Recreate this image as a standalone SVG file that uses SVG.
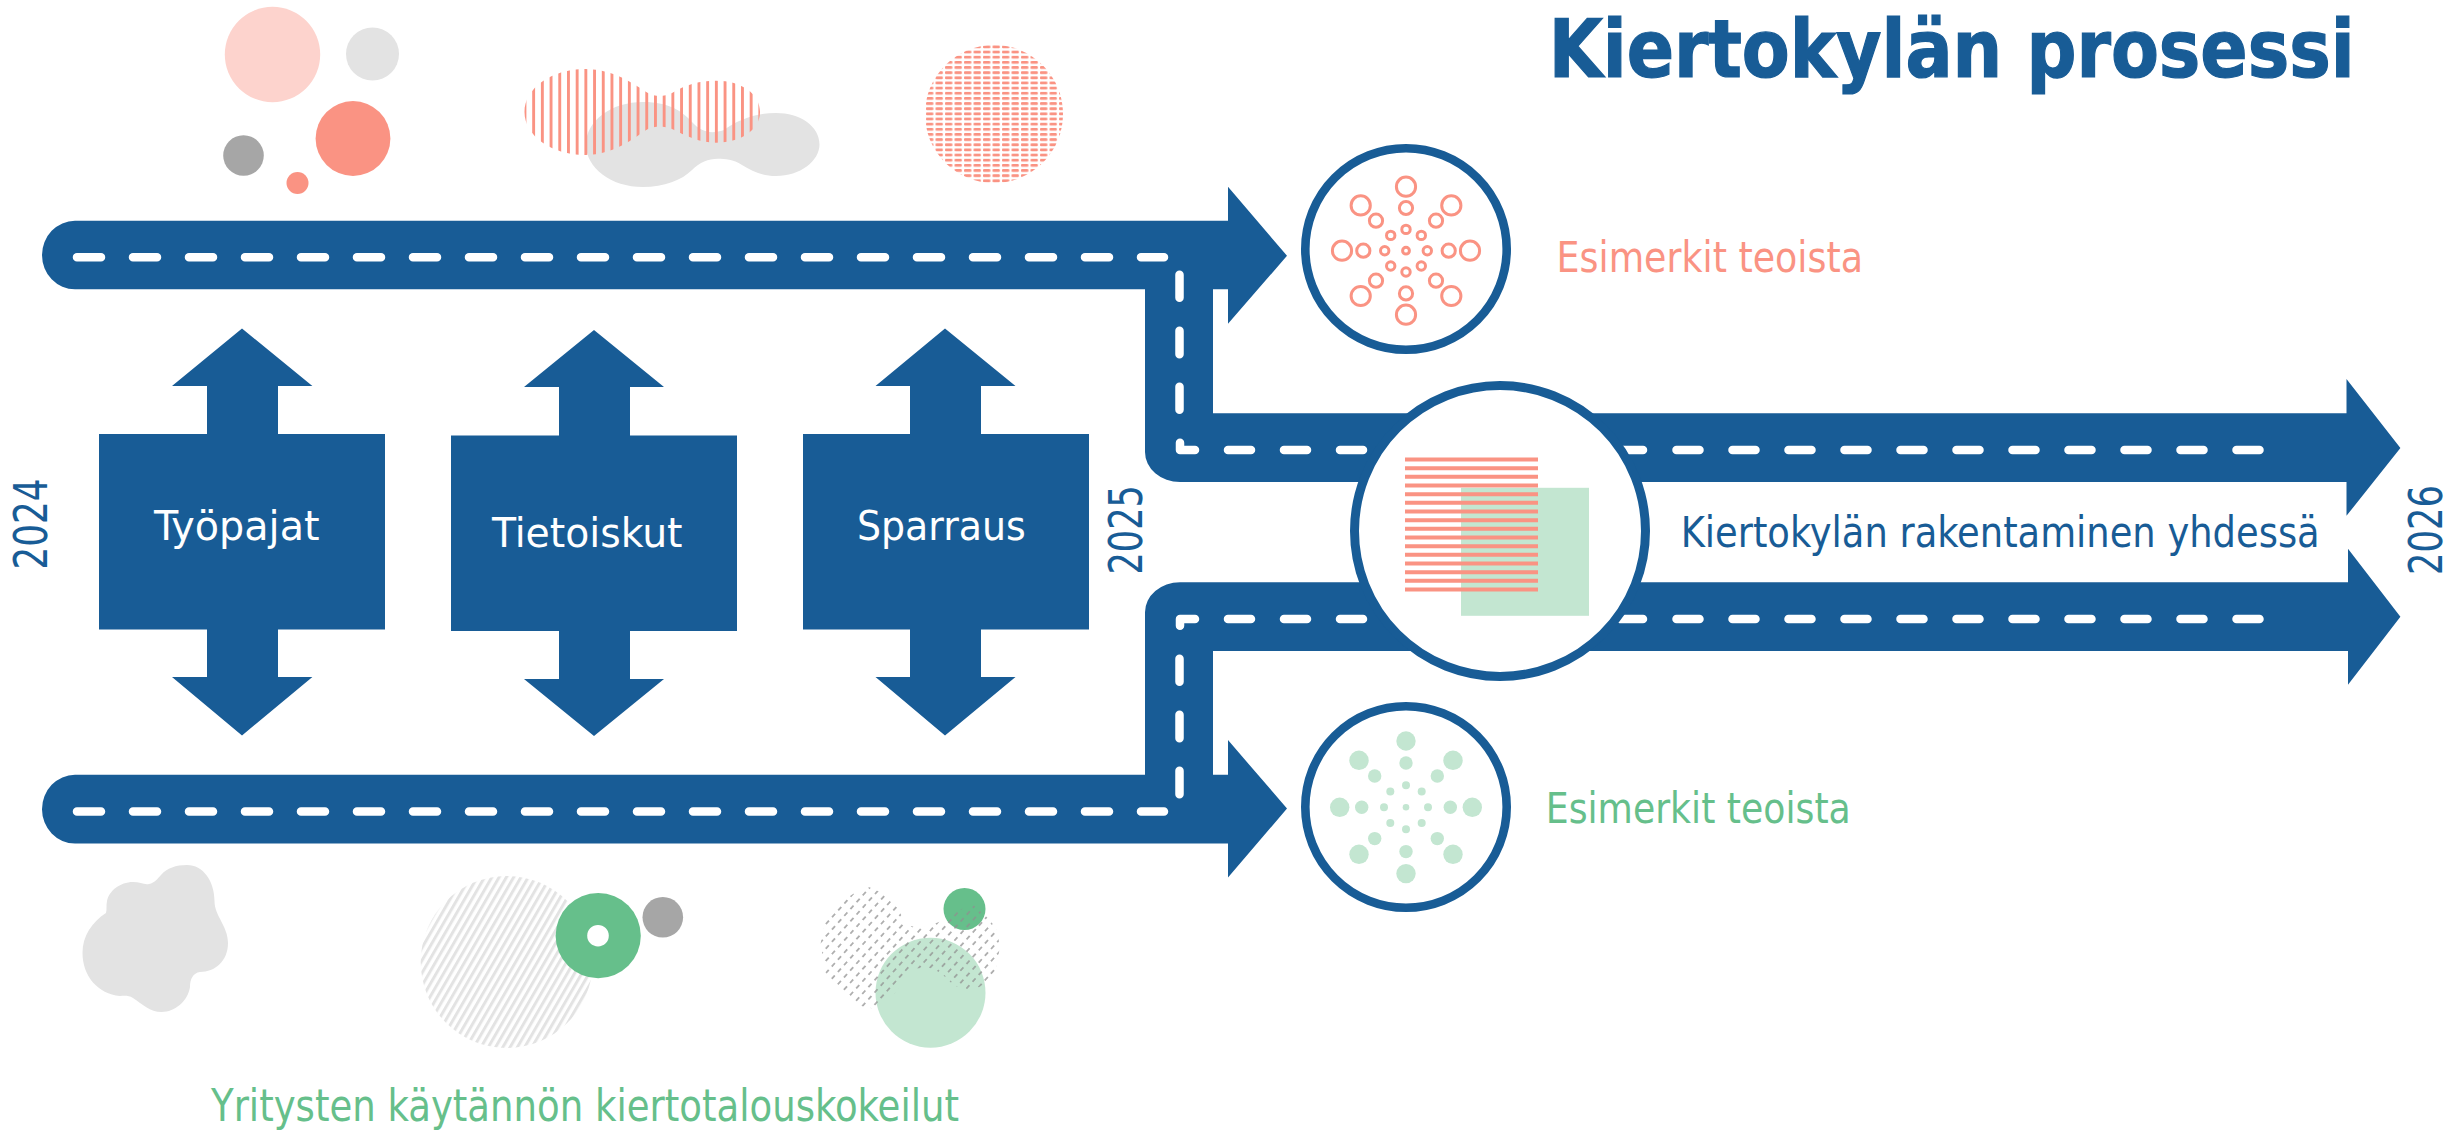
<svg xmlns="http://www.w3.org/2000/svg" width="2455" height="1130" viewBox="0 0 2455 1130">
<style>
.road{fill:#185C96}
.dash{fill:none;stroke:#fff;stroke-width:8.500;stroke-linecap:round;stroke-linejoin:round}
.ring{fill:#fff;stroke:#185C96;stroke-width:9}
.box{fill:#185C96}
.t{font-family:"DejaVu Sans","Liberation Sans",sans-serif;font-stretch:condensed}
.w{fill:#fff;font-size:41px}
.b{fill:#185C96}
.pinkring{fill:none;stroke:#FA9383;stroke-width:3}
.greendot{fill:#C3E6D1}
.salmon{fill:#FA9383}
.gl{fill:#E3E3E3}
.gd{fill:#A6A6A6}
.gm{fill:#66BF8B}
</style>
<defs>
<pattern id="pv" patternUnits="userSpaceOnUse" x="532.2" y="0" width="8.7" height="10"><rect width="2.9" height="10" fill="#FA9383"/></pattern>
<pattern id="pd" patternUnits="userSpaceOnUse" x="926" y="45.5" width="9.5" height="5.15"><rect width="7.4" height="2.8" rx="1" fill="#FA9383"/></pattern>
<pattern id="ph" patternUnits="userSpaceOnUse" width="6.3" height="10" patternTransform="rotate(30)"><rect width="3" height="10" fill="#E3E3E3"/></pattern>
<pattern id="pg" patternUnits="userSpaceOnUse" width="9.2" height="8.2" patternTransform="rotate(-48 820 880)"><rect x="0" y="3" width="4.6" height="1.3" fill="#8f8f8f"/></pattern>
</defs>
<g id="top-shapes">
<circle class="salmon" cx="272.5" cy="54.5" r="47.7" style="fill:#FDD3CD"/>
<circle class="gl" cx="372.5" cy="54" r="26.5"/>
<circle class="salmon" cx="353" cy="138.5" r="37.4"/>
<circle class="gd" cx="243.5" cy="155.5" r="20.3"/>
<circle class="salmon" cx="297.5" cy="183" r="11"/>
<path class="gl" d="M586 144.5C586 121 611 102 643 102C670 102 683 112 692 122C702 133 712 134 724 130C738 120 755 113 776 113C800 113 819.500 126 819.500 144.500C819.500 161 800 176 776 176C762 176 752 171 742 165C733 159 725 158.700 718 158.700C708 158.700 700 162 692 170C682 180 664 187 643 187C611 187 586 168 586 144.500Z"/>
<path fill="url(#pv)" d="M524.500 112C524.500 88 552 69 585 69C615 69 635 85 648 93C655 97 664 97 672 93C685 85 698 80.700 716 80.700C742 80.700 760 94 760 112C760 129 742 142.700 716 142.700C698 142.700 685 135 672 129C664 125.500 655 125.500 648 129C635 137 615 155 585 155C552 155 524.500 136 524.500 112Z"/>
<circle fill="url(#pd)" cx="994" cy="114" r="69"/>
</g>
<g id="connectors" transform="translate(0 0.800)">
<path class="road" d="M75 220H1228V186L1287 255L1228 323V288.500H1213V412.500H2346.500V378.300L2400.400 447.300L2346.500 515V481.300H1180A35 30 0 0 1 1145 451.300V288.500H75A33 34.250 0 0 1 75 220Z"/>
<path class="road" d="M75 774H1145V611.500A35 30 0 0 1 1180 581.500H2348V548L2400.400 616L2348 684V650.300H1213V774H1228V739.300L1287 807.700L1228 876.700V842.700H75A33 34.350 0 0 1 75 774Z"/>
<path class="dash" d="M77 256.500H101M133 256.500H157M189 256.500H213M245 256.500H269M301 256.500H325M357 256.500H381M413 256.500H437M469 256.500H493M525 256.500H549M581 256.500H605M637 256.500H661M693 256.500H717M749 256.500H773M805 256.500H829M861 256.500H885M917 256.500H941M973 256.500H997M1029 256.500H1053M1085 256.500H1109M1141 256.500H1164"/>
<path class="dash" d="M77 810.700H101M133 810.700H157M189 810.700H213M245 810.700H269M301 810.700H325M357 810.700H381M413 810.700H437M469 810.700H493M525 810.700H549M581 810.700H605M637 810.700H661M693 810.700H717M749 810.700H773M805 810.700H829M861 810.700H885M917 810.700H941M973 810.700H997M1029 810.700H1053M1085 810.700H1109M1141 810.700H1164"/>
<path class="dash" d="M1179.500 274V297M1179.500 330V353.500M1179.500 386V409M1180 442V449.300H1195M1228 449.300H1251M1284 449.300H1307M1340 449.300H1363M1396 449.300H1419M1452 449.300H1475M1508 449.300H1531M1564 449.300H1587M1620 449.300H1643M1676.500 449.300H1699.500M1732.500 449.300H1755.500M1788.500 449.300H1811.500M1844.500 449.300H1867.500M1900.500 449.300H1923.500M1956.500 449.300H1979.500M2012.500 449.300H2035.500M2068.500 449.300H2091.500M2124.500 449.300H2147.500M2180.500 449.300H2203.500M2236.500 449.300H2259.500"/>
<path class="dash" d="M1179.500 658V681M1179.500 714V737.500M1179.500 770V793.500M1180 625V618.200H1195M1228 618.200H1251M1284 618.200H1307M1340 618.200H1363M1396 618.200H1419M1452 618.200H1475M1508 618.200H1531M1564 618.200H1587M1620 618.200H1643M1676.500 618.200H1699.500M1732.500 618.200H1755.500M1788.500 618.200H1811.500M1844.500 618.200H1867.500M1900.500 618.200H1923.500M1956.500 618.200H1979.500M2012.500 618.200H2035.500M2068.500 618.200H2091.500M2124.500 618.200H2147.500M2180.500 618.200H2203.500M2236.500 618.200H2259.500"/>
</g>
<g id="node-tyopajat">
<path class="box" transform="translate(0 1)" d="M242 327.500L312.400 385H278V433H385V628.500H278V676H312.400L242 734.500L172 676H207V628.500H99V433H207V385H172Z"/>
<text class="t w" x="154" y="540" textLength="165.500" lengthAdjust="spacingAndGlyphs">Työpajat</text>
</g>
<g id="node-tietoiskut">
<path class="box" transform="translate(0 1)" d="M594 329L664 386H630V434.400H737V630H630V678H664L594 735L524 678H559V630H451V434.400H559V386H524Z"/>
<text class="t w" x="492" y="547" textLength="190.500" lengthAdjust="spacingAndGlyphs">Tietoiskut</text>
</g>
<g id="node-sparraus">
<path class="box" transform="translate(0 1)" d="M945 327.500L1015.500 385H981V433H1089V628.500H981V676H1015.500L945 734.500L875.500 676H910V628.500H803V433H910V385H875.500Z"/>
<text class="t w" x="857" y="540" textLength="168.700" lengthAdjust="spacingAndGlyphs">Sparraus</text>
</g>
<g id="node-esimerkit-top">
<circle class="ring" cx="1406" cy="249" r="100.700" style="stroke-width:8.600"/>
<g class="pinkring" transform="translate(1406 250.700)">
<circle r="3.400"/>
<circle cy="-21.300" r="4.200"/><circle cy="21.300" r="4.200"/><circle cx="-21.300" r="4.200"/><circle cx="21.300" r="4.200"/>
<circle cx="-15.300" cy="-15.300" r="4.200"/><circle cx="15.300" cy="-15.300" r="4.200"/><circle cx="-15.300" cy="15.300" r="4.200"/><circle cx="15.300" cy="15.300" r="4.200"/>
<circle cy="-42.700" r="6.600"/><circle cy="42.700" r="6.600"/><circle cx="-42.700" r="6.600"/><circle cx="42.700" r="6.600"/>
<circle cx="-30" cy="-30" r="6.600"/><circle cx="30" cy="-30" r="6.600"/><circle cx="-30" cy="30" r="6.600"/><circle cx="30" cy="30" r="6.600"/>
<circle cy="-64" r="9.600"/><circle cy="64" r="9.600"/><circle cx="-64" r="9.600"/><circle cx="64" r="9.600"/>
<circle cx="-45.300" cy="-45.300" r="9.600"/><circle cx="45.300" cy="-45.300" r="9.600"/><circle cx="-45.300" cy="45.300" r="9.600"/><circle cx="45.300" cy="45.300" r="9.600"/>
</g>
<text class="t" x="1556.600" y="272" font-size="43" fill="#FA9383" textLength="306.400" lengthAdjust="spacingAndGlyphs">Esimerkit teoista</text>
</g>
<g id="node-center">
<circle class="ring" cx="1500" cy="531" r="145.500"/>
<rect x="1461" y="487.800" width="128" height="128" fill="#C3E6D1"/>
<path fill="none" stroke="#FA9383" stroke-width="4" d="M1405 459.500H1538M1405 468.200H1538M1405 476.800H1538M1405 485.500H1538M1405 494.200H1538M1405 502.800H1538M1405 511.500H1538M1405 520.200H1538M1405 528.800H1538M1405 537.500H1538M1405 546.200H1538M1405 554.800H1538M1405 563.500H1538M1405 572.200H1538M1405 580.800H1538M1405 589.500H1538"/>
<text class="t b" x="1680.700" y="546.700" font-size="43" textLength="639" lengthAdjust="spacingAndGlyphs">Kiertokylän rakentaminen yhdessä</text>
</g>
<g id="node-esimerkit-bottom">
<circle class="ring" cx="1406" cy="807" r="100.700" style="stroke-width:8.600"/>
<g class="greendot" transform="translate(1406 807.300)">
<circle r="3.300"/>
<circle cy="-22" r="4"/><circle cy="22" r="4"/><circle cx="-22" r="4"/><circle cx="22" r="4"/>
<circle cx="-15.700" cy="-15.700" r="4"/><circle cx="15.700" cy="-15.700" r="4"/><circle cx="-15.700" cy="15.700" r="4"/><circle cx="15.700" cy="15.700" r="4"/>
<circle cy="-44.300" r="6.700"/><circle cy="44.300" r="6.700"/><circle cx="-44.300" r="6.700"/><circle cx="44.300" r="6.700"/>
<circle cx="-31.300" cy="-31.300" r="6.700"/><circle cx="31.300" cy="-31.300" r="6.700"/><circle cx="-31.300" cy="31.300" r="6.700"/><circle cx="31.300" cy="31.300" r="6.700"/>
<circle cy="-66.300" r="9.700"/><circle cy="66.300" r="9.700"/><circle cx="-66.300" r="9.700"/><circle cx="66.300" r="9.700"/>
<circle cx="-47" cy="-47" r="9.700"/><circle cx="47" cy="-47" r="9.700"/><circle cx="-47" cy="47" r="9.700"/><circle cx="47" cy="47" r="9.700"/>
</g>
<text class="t" x="1545.800" y="823" font-size="43" fill="#66BF8B" textLength="305" lengthAdjust="spacingAndGlyphs">Esimerkit teoista</text>
</g>
<g id="bottom-shapes">
<path class="gl" transform="translate(0 1)" d="M187 864C203 864 214.500 880 214.500 900C214.500 915 228 925 228 942C228 960 215 971 200 971C193 972 190 978 190 986C188 1000 175 1011 161.600 1011C150 1011 142 1003 133 997C128 994 124 995 120 995C98 993 82.500 975 82.500 952C82.500 935 92 921 106 912C107 908 106 905 107 900C109 890 120 881 133 881C140 881 144 884 149 883C155 882 158 877 161 874C167 867 176 864 187 864Z"/>
<circle fill="url(#ph)" cx="506.700" cy="962" r="86"/>
<circle class="gm" cx="598.200" cy="935.700" r="42.600"/>
<circle fill="#fff" cx="598" cy="935.700" r="10.800"/>
<circle class="gd" cx="662.800" cy="917.300" r="20.300"/>
<circle class="greendot" cx="930.500" cy="992.700" r="55"/>
<circle class="gm" cx="964.500" cy="909" r="21"/>
<path fill="url(#pg)" d="M868.300 886.700L856.700 891.700L835 905L825 921.700L820.700 943.300L825 971.700L840 988.300L855 1005L871.700 1008.300L896.700 991.700L905 976L916.700 968.300L933.300 968.300L945 976.700L953.300 985L970 991.700L986.700 983.300L995 973.300L1000 946.700L996.700 930L990 920L973.300 905L953.300 911.700L940 921.700L920 928.300L906.700 925L896.700 906.700L886.700 895Z"/>
<text class="t" x="211" y="1121" font-size="44" fill="#66BF8B" textLength="748" lengthAdjust="spacingAndGlyphs">Yritysten käytännön kiertotalouskokeilut</text>
</g>
<g id="labels">
<text class="t b" x="1548.700" y="76.700" font-size="80" font-weight="700" stroke="#185C96" stroke-width="1.200" textLength="806" lengthAdjust="spacingAndGlyphs">Kiertokylän prosessi</text>
<text class="t b" transform="translate(47.400 569.500) rotate(-90)" font-size="46" textLength="91" lengthAdjust="spacingAndGlyphs">2024</text>
<text class="t b" transform="translate(1142 574.600) rotate(-90)" font-size="46" textLength="89.600" lengthAdjust="spacingAndGlyphs">2025</text>
<text class="t b" transform="translate(2442.400 575) rotate(-90)" font-size="46" textLength="90" lengthAdjust="spacingAndGlyphs">2026</text>
</g>
</svg>
